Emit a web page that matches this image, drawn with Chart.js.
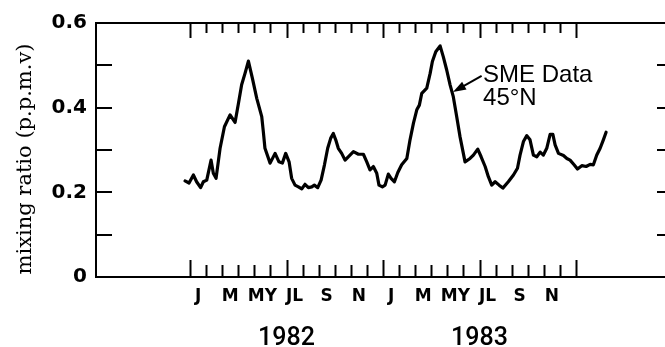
<!DOCTYPE html>
<html>
<head>
<meta charset="utf-8">
<script src="https://cdn.jsdelivr.net/npm/chart.js@4.4.1/dist/chart.umd.min.js"></script>
<style>
  body { margin: 0; background: #fff; overflow: hidden; }
  canvas { display: block; }
</style>
</head>
<body>
<canvas id="smeCanvas" width="680" height="347"></canvas>
<script>
// months counted from 1 Jan 1982
const monthX = [
  -0.31, -0.06, 0.21, 0.41, 0.66, 0.83, 1.04, 1.31, 1.45, 1.62, 1.87, 2.14, 2.49, 2.80,
  3.01, 3.21, 3.42, 3.63, 3.88, 4.15, 4.46, 4.56, 4.66, 4.98, 5.29, 5.53, 5.74, 5.95,
  6.16, 6.32, 6.53, 6.74, 6.95, 7.15, 7.36, 7.57, 7.73, 7.94, 8.15, 8.36, 8.56, 8.75,
  8.91, 9.06, 9.22, 9.43, 9.64, 9.84, 10.16, 10.47, 10.78, 10.99, 11.19, 11.40, 11.61,
  11.75, 11.96, 12.13, 12.33, 12.50, 12.71, 12.92, 13.16, 13.48, 13.68, 13.89, 14.10,
  14.26, 14.41, 14.72, 14.93, 15.07, 15.28, 15.55, 15.75, 15.96, 16.17, 16.37, 16.58,
  16.79, 17.10, 17.41, 17.62, 17.89, 18.10, 18.35, 18.55, 18.76, 18.97, 19.22, 19.45,
  19.79, 20.11, 20.36, 20.52, 20.73, 20.94, 21.14, 21.35, 21.56, 21.77, 21.97, 22.18,
  22.39, 22.56, 22.70, 22.91, 23.22, 23.43, 23.63, 23.88, 24.09, 24.36, 24.63, 24.88,
  25.08, 25.29, 25.50, 25.70, 25.87
];
const mixingRatio = [
  0.227, 0.222, 0.241, 0.225, 0.211, 0.225, 0.229, 0.276, 0.245, 0.233, 0.304, 0.355, 0.383, 0.365,
  0.410, 0.454, 0.481, 0.510, 0.469, 0.422, 0.379, 0.343, 0.304, 0.269, 0.292, 0.272, 0.269, 0.292,
  0.272, 0.233, 0.217, 0.213, 0.208, 0.219, 0.211, 0.213, 0.217, 0.211, 0.229, 0.265, 0.304, 0.328,
  0.339, 0.324, 0.304, 0.292, 0.276, 0.284, 0.296, 0.290, 0.290, 0.272, 0.253, 0.261, 0.245,
  0.217, 0.213, 0.217, 0.243, 0.233, 0.225, 0.247, 0.265, 0.280, 0.324, 0.363, 0.395,
  0.406, 0.434, 0.446, 0.481, 0.509, 0.532, 0.546, 0.520, 0.489, 0.454, 0.426, 0.379,
  0.331, 0.272, 0.280, 0.288, 0.302, 0.284, 0.261, 0.237, 0.217, 0.225, 0.217, 0.210,
  0.225, 0.241, 0.257, 0.288, 0.320, 0.334, 0.324, 0.288, 0.284, 0.295, 0.288, 0.304,
  0.337, 0.337, 0.312, 0.292, 0.287, 0.280, 0.276, 0.265, 0.255, 0.263, 0.261, 0.266,
  0.265, 0.288, 0.304, 0.324, 0.342
];

const labelMonths = [0, 2, 4, 6, 8, 10, 12, 14, 16, 18, 20, 22];
const monthLabels = ["J", "M", "MY", "JL", "S", "N", "J", "M", "MY", "JL", "S", "N"];
const yearMonths = [6, 18];
const yearLabels = ["1982", "1983"];
const yLabelValues = [0, 0.2, 0.4, 0.6];
const yMinorTicks = [0.1, 0.2, 0.3, 0.4, 0.5];

const noteLines = ["SME Data", "45°N"];
const noteAt = { x: 18.22, y: [0.4607, 0.406] };
const arrowFrom = { x: 18.13, y: 0.475 };
const arrowTo = { x: 16.35, y: 0.437 };

// frame, inward ticks, years, title and the note
const decor = {
  id: "decor",
  afterDraw(chart) {
    const ctx = chart.ctx;
    const a = chart.chartArea;
    const x = chart.scales.x;
    const y = chart.scales.y;
    ctx.save();
    ctx.strokeStyle = "#000";
    ctx.fillStyle = "#000";
    ctx.lineWidth = 2;
    ctx.strokeRect(a.left, a.top, a.right - a.left, a.bottom - a.top);

    function seg(x1, y1, x2, y2) {
      ctx.beginPath();
      ctx.moveTo(x1, y1);
      ctx.lineTo(x2, y2);
      ctx.stroke();
    }
    for (let m = 0; m <= 24; m++) {
      const px = Math.round(x.getPixelForValue(m)) + 0.5;
      const major = m % 6 === 0;
      seg(px, a.bottom, px, a.bottom - (major ? 17 : 12));
      seg(px, a.top, px, a.top + (major ? 15 : 10));
    }
    yMinorTicks.forEach(v => {
      const py = Math.round(y.getPixelForValue(v));
      seg(a.left, py, a.left + 16, py);
      seg(a.right, py, a.right - 16, py);
    });

    ctx.font = "500 25px Roboto";
    ctx.textAlign = "center";
    ctx.textBaseline = "alphabetic";
    yearLabels.forEach((t, i) => {
      ctx.fillText(t, x.getPixelForValue(yearMonths[i]), 345);
    });

    ctx.save();
    ctx.translate(26, 159);
    ctx.rotate(-Math.PI / 2);
    ctx.font = "21px 'DejaVu Serif'";
    ctx.textBaseline = "middle";
    ctx.fillText("mixing ratio (p.p.m.v)", 0, 0);
    ctx.restore();

    ctx.font = "24px 'Liberation Sans'";
    ctx.textAlign = "left";
    noteLines.forEach((t, i) => {
      ctx.fillText(t, x.getPixelForValue(noteAt.x), y.getPixelForValue(noteAt.y[i]));
    });

    const x1 = x.getPixelForValue(arrowFrom.x), y1 = y.getPixelForValue(arrowFrom.y);
    const x2 = x.getPixelForValue(arrowTo.x), y2 = y.getPixelForValue(arrowTo.y);
    const ang = Math.atan2(y2 - y1, x2 - x1);
    ctx.lineWidth = 2;
    seg(x1, y1, x2 - 10 * Math.cos(ang), y2 - 10 * Math.sin(ang));
    ctx.beginPath();
    ctx.moveTo(x2, y2);
    ctx.lineTo(x2 - 13 * Math.cos(ang) + 4.5 * Math.sin(ang), y2 - 13 * Math.sin(ang) - 4.5 * Math.cos(ang));
    ctx.lineTo(x2 - 13 * Math.cos(ang) - 4.5 * Math.sin(ang), y2 - 13 * Math.sin(ang) + 4.5 * Math.cos(ang));
    ctx.closePath();
    ctx.fill();
    ctx.restore();
  }
};

const smeChart = new Chart(document.getElementById("smeCanvas"), {
  type: "line",
  data: {
    datasets: [{
      data: monthX.map((m, i) => ({ x: m, y: mixingRatio[i] })),
      borderColor: "#000",
      borderWidth: 3.2,
      borderJoinStyle: "round",
      borderCapStyle: "round",
      pointRadius: 0,
      tension: 0,
      fill: false
    }]
  },
  options: {
    responsive: false,
    animation: false,
    devicePixelRatio: 1,
    layout: { padding: { top: 23, right: 7, left: 0, bottom: 0 } },
    scales: {
      x: {
        type: "linear",
        min: -5.845,
        max: 30.03,
        afterBuildTicks: scale => {
          scale.ticks = labelMonths.map(m => ({ value: m + 0.5 }));
        },
        afterFit: scale => { scale.height = 70; },
        ticks: {
          autoSkip: false,
          maxRotation: 0,
          padding: 9,
          color: "#000",
          font: { family: "DejaVu Sans", weight: "bold", size: 17 },
          callback: (v, i) => monthLabels[i]
        },
        grid: { display: false, drawTicks: false },
        border: { display: false }
      },
      y: {
        min: 0,
        max: 0.6,
        afterBuildTicks: scale => {
          scale.ticks = yLabelValues.map(v => ({ value: v }));
        },
        afterFit: scale => { scale.width = 96; },
        ticks: {
          padding: 9,
          color: "#000",
          font: { family: "DejaVu Sans", weight: "bold", size: 20 },
          callback: v => (v === 0 ? "0" : v.toFixed(1))
        },
        grid: { display: false, drawTicks: false },
        border: { display: false }
      }
    },
    plugins: {
      legend: { display: false },
      tooltip: { enabled: false }
    }
  },
  plugins: [decor]
});
</script>
</body>
</html>
